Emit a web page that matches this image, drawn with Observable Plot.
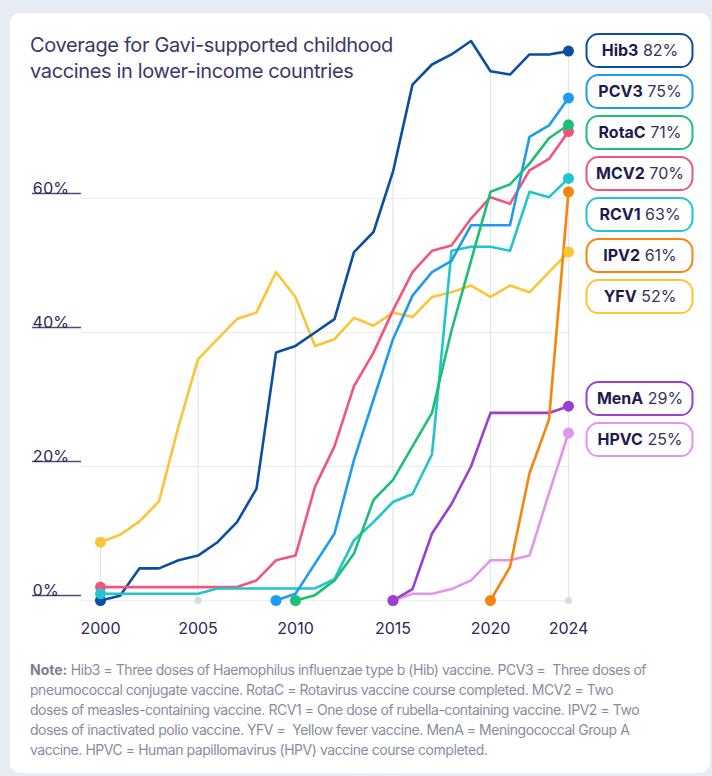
<!DOCTYPE html>
<html><head><meta charset="utf-8">
<script src="https://cdn.jsdelivr.net/npm/d3@7"></script>
<script src="https://cdn.jsdelivr.net/npm/@observablehq/plot@0.6"></script>
<style>
html,body{margin:0;padding:0;background:#e8edf4;width:712px;height:776px;overflow:hidden;font-family:Inter,"Noto Sans",sans-serif;}
#card{position:absolute;left:10px;top:13px;width:700px;height:760px;background:#fff;border-radius:10px;}
#chart{position:absolute;left:0;top:0;}
#title{position:absolute;left:30px;top:32px;font-size:20px;line-height:26px;color:#3b3868;letter-spacing:-0.35px;}
#note{position:absolute;left:30px;top:660px;font-size:14px;line-height:20px;color:#878ca1;white-space:pre;letter-spacing:-0.45px;}
#note div{height:20px;}
#note b{color:#7a7f95;font-weight:700;letter-spacing:0;}
</style></head>
<body>
<div id="card"></div>
<div id="chart"></div>
<div id="title">Coverage for Gavi-supported childhood<br>vaccines in lower-income countries</div>
<div id="note"><div><b>Note:</b> Hib3 = Three doses of Haemophilus influenzae type b (Hib) vaccine. PCV3 =  Three doses of</div><div>pneumococcal conjugate vaccine. RotaC = Rotavirus vaccine course completed. MCV2 = Two</div><div>doses of measles-containing vaccine. RCV1 = One dose of rubella-containing vaccine. IPV2 = Two</div><div>doses of inactivated polio vaccine. YFV =  Yellow fever vaccine. MenA = Meningococcal Group A</div><div>vaccine. HPVC = Human papillomavirus (HPV) vaccine course completed.</div></div>
<script>
// ---- data (coverage %) ----
const names  = ["YFV", "Hib3", "MCV2", "RCV1", "PCV3", "RotaC", "HPVC", "MenA", "IPV2"];
const colors = ["#fdc536", "#0b4ea2", "#f2557a", "#21c4cf", "#1e9bf0", "#1dbf73", "#e394ec", "#9a3fd1", "#f7850d"];
const startYears = [2000, 2000, 2000, 2000, 2009, 2010, 2015, 2015, 2020];
const yfv   = [8.7, 9.8, 11.8, 14.8, 26, 36, 39, 42, 43, 49, 45.3, 38, 39, 42.2, 41, 43, 42.3, 45.3, 46, 47, 45.3, 47, 46, 49, 52];
const hib3  = [0, 0.7, 4.8, 4.8, 6, 6.7, 8.7, 11.7, 16.7, 37, 38, 40, 42, 52, 55, 64, 77, 80, 81.5, 83.5, 79, 78.5, 81.5, 81.5, 82];
const mcv2  = [2, 2, 2, 2, 2, 2, 2, 2, 3, 6, 6.7, 17, 23, 32, 37, 43.3, 49, 52.2, 53, 57, 60.2, 59.2, 64.2, 65.9, 70];
const rcv1  = [1, 1, 1, 1, 1, 1, 1.8, 1.8, 1.8, 1.8, 1.8, 1.8, 3.2, 9, 11.7, 14.7, 15.9, 21.8, 52.2, 52.8, 52.8, 52.2, 61, 60.2, 63];
const pcv3  = [0, 1, 5.5, 10, 21, 30, 39, 45.5, 49, 50.7, 56, 56, 56, 69.2, 70.9, 75];
const rotac = [0, 0.8, 3, 7, 15, 18, 23, 28, 40.3, 50.7, 61, 62.1, 65.2, 69, 71];
const hpvc  = [0, 1, 1, 1.7, 3, 6, 6, 6.7, 16, 25];
const mena  = [0, 1.7, 10, 14.4, 20, 28, 28, 28, 28, 29];
const ipv2  = [0, 5, 19, 27, 61];
const seriesValues = [yfv, hib3, mcv2, rcv1, pcv3, rotac, hpvc, mena, ipv2];
const xTicks = [2000, 2005, 2010, 2015, 2020, 2024];
const yTicks = [0, 20, 40, 60];

// ---- table built from the arrays ----
const rows = names.flatMap((n, k) => seriesValues[k].map((v, i) => ({series: n, year: startYears[k] + i, value: v})));
const ends = names.map((n, k) => ({series: n, year: startYears[k] + seriesValues[k].length - 1, value: seriesValues[k][seriesValues[k].length - 1]}));
const starts = names.map((n, k) => ({series: n, year: startYears[k], value: seriesValues[k][0]}));
const maxAt = t => d3.max(rows.filter(r => r.year === t), r => r.value);

const yDomain = [0, 80], yRange = [600, 64];
const xDomain = [2000, 2024], xRange = [100, 568];
const yS = d3.scaleLinear(yDomain, yRange);

// label dodge (pixel space, symmetric clusters, clamped at top)
const GAP = 41;
const order = ends.slice().sort((a, b) => b.value - a.value);
const targets = order.map(d => yS(d.value));
const minTop = targets[0];
let clusters = targets.map((t, i) => ({idx: [i]}));
const place = c => { const m = d3.mean(c.idx, i => targets[i]); c.top = Math.max(minTop, m - (c.idx.length - 1) * GAP / 2); };
clusters.forEach(place);
let merged = true;
while (merged) {
  merged = false;
  for (let i = 0; i < clusters.length - 1; i++) {
    const a = clusters[i], b = clusters[i + 1];
    if (b.top - (a.top + (a.idx.length - 1) * GAP) < GAP) {
      const c = {idx: a.idx.concat(b.idx)}; place(c);
      clusters.splice(i, 2, c); merged = true; break;
    }
  }
}
const labelData = [];
clusters.forEach(c => c.idx.forEach((i, j) => {
  const d = order[i];
  labelData.push({series: d.series, pct: Math.round(d.value) + "%", year: d.year, ly: yS.invert(c.top + j * GAP)});
}));

const ink = "#2b2859";
const plot = Plot.plot({
  width: 712, height: 650,
  marginLeft: 81, marginRight: 142, marginTop: 40, marginBottom: 50,
  x: {domain: xDomain, range: xRange, axis: null},
  y: {domain: yDomain, range: yRange, axis: null},
  color: {domain: names, range: colors},
  style: {background: "transparent", fontFamily: "Inter, 'Noto Sans', sans-serif", overflow: "visible"},
  marks: [
    Plot.ruleY(yTicks, {y: d => d, stroke: "#ebedf2", strokeWidth: 1.2}),
    Plot.ruleX(xTicks, {x: d => d, y1: 0, y2: d => maxAt(d), stroke: "#e3e5ec", strokeWidth: 1.2}),
    Plot.dot(xTicks, {x: d => d, y: 0, r: 3.5, fill: "#d8dbe5"}),
    Plot.axisY({ticks: yTicks, tickSize: 49, tickPadding: 0, textAnchor: "start", lineAnchor: "bottom", dy: -5,
      tickFormat: d => d + "%", fontSize: 16, color: "#4f4b78", fill: ink, label: null, strokeWidth: 1.3}),
    Plot.text(xTicks, {x: d => d, text: d => String(d), frameAnchor: "bottom", dy: 33, fontSize: 16, fill: ink}),
    Plot.line(rows, {x: "year", y: "value", z: "series", stroke: "series", strokeWidth: 2.6, strokeLinejoin: "round", strokeLinecap: "round"}),
    Plot.dot(starts, {x: "year", y: "value", fill: "series", r: 5.5}),
    Plot.dot(ends, {x: "year", y: "value", fill: "series", r: 5.5}),
    Plot.text(labelData, {x: "year", y: "ly", text: d => d.series + " " + d.pct, dx: 71.5, textAnchor: "middle", fontSize: 16, fill: ink})
  ]
});
document.getElementById("chart").appendChild(plot);

// boxes + mixed-weight label text
const sx = plot.scale("x"), sy = plot.scale("y");
const svg = d3.select(plot);
const textGroups = svg.selectAll('g[aria-label="text"]').nodes();
const lgNode = textGroups[textGroups.length - 1];
const lg = d3.select(lgNode);
const boxes = d3.select(lgNode.parentNode).insert("g", () => lgNode);
lg.selectAll("text").each(function(_, i) {
  const d = labelData[i];
  const cx = sx.apply(d.year) + 71.5, cy = sy.apply(d.ly);
  boxes.append("rect").attr("x", cx - 53).attr("y", cy - 16.5).attr("width", 106).attr("height", 33)
    .attr("rx", 12).attr("fill", "#fff").attr("stroke", colors[names.indexOf(d.series)]).attr("stroke-width", 2);
  const t = d3.select(this); t.text("");
  t.append("tspan").attr("font-weight", 700).attr("fill", "#1f1b4d").text(d.series);
  t.append("tspan").attr("fill", "#35325f").text(" " + d.pct);
});
</script>
</body></html>
